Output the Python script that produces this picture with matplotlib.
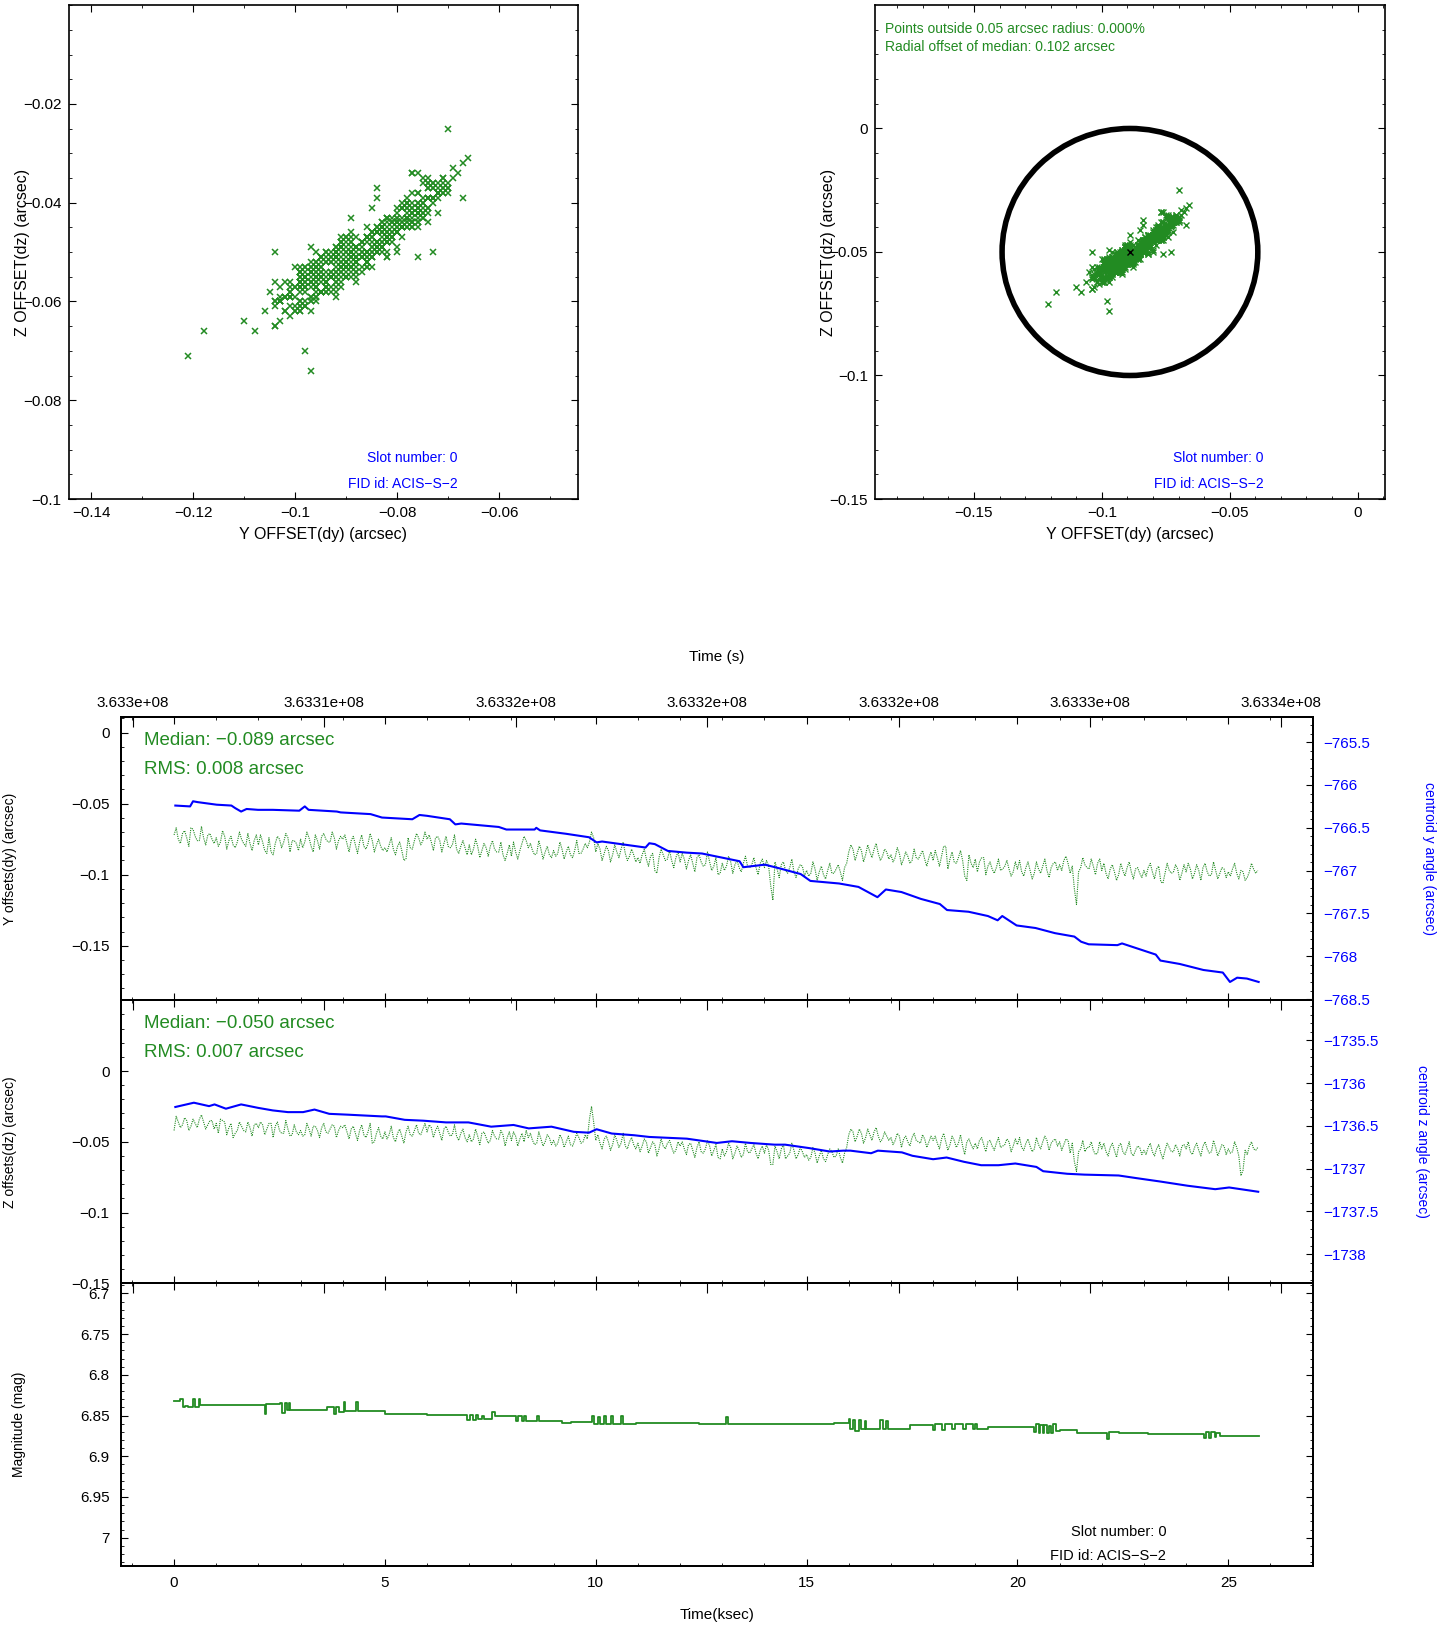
import matplotlib
matplotlib.use("Agg")
import matplotlib.pyplot as plt
from matplotlib.patches import Circle
from matplotlib.ticker import MultipleLocator, FixedLocator, FixedFormatter, FuncFormatter
import numpy as np

plt.rcParams["font.family"] = ["Liberation Sans", "DejaVu Sans"]
plt.rcParams["axes.linewidth"] = 1.3
plt.rcParams["xtick.direction"] = "in"
plt.rcParams["ytick.direction"] = "in"
plt.rcParams["xtick.major.size"] = 5
plt.rcParams["ytick.major.size"] = 5
plt.rcParams["xtick.minor.size"] = 2.5
plt.rcParams["ytick.minor.size"] = 2.5
plt.rcParams["xtick.labelsize"] = 11
plt.rcParams["ytick.labelsize"] = 11

GREEN = "#228b22"
BLUE = "#0000ff"

# fid light offsets (milli-arcsec), samples on the 0.1 ksec grid t = 0.0 .. 25.7
dy_mas = [
    -72, -75, -71, -74, -67, -73, -76, -74, -72, -75,
    -74, -77, -73, -76, -79, -77, -75, -80, -78, -76,
    -79, -77, -85, -84, -78, -75, -77, -74, -76, -78,
    -75, -77, -74, -84, -76, -73, -75, -77, -74, -76,
    -75, -78, -76, -79, -77, -80, -78, -76, -79, -80,
    -81, -79, -82, -80, -83, -89, -81, -76, -74, -76,
    -75, -77, -74, -76, -78, -80, -79, -82, -80, -81,
    -79, -82, -80, -83, -81, -80, -82, -84, -86, -85,
    -87, -84, -83, -73, -81, -83, -85, -82, -84, -86,
    -83, -85, -82, -84, -86, -83, -85, -82, -81, -70,
    -84, -82, -85, -83, -86, -84, -82, -85, -87, -86,
    -88, -86, -89, -87, -97, -88, -86, -89, -90, -88,
    -91, -89, -90, -92, -88, -91, -93, -91, -94, -100,
    -92, -94, -91, -93, -95, -92, -94, -93, -95, -92,
    -95, -94, -118, -96, -93, -97, -95, -98, -96, -94,
    -97, -99, -96, -98, -100, -97, -99, -96, -98, -95,
    -84, -82, -85, -83, -86, -84, -82, -85, -87, -84,
    -86, -88, -85, -89, -87, -90, -88, -86, -89, -88,
    -90, -88, -87, -80, -89, -91, -88, -90, -104, -92,
    -89, -91, -88, -94, -96, -95, -97, -94, -96, -98,
    -96, -98, -95, -97, -99, -96, -94, -97, -95, -91,
    -93, -90, -92, -94, -121, -95, -93, -96, -94, -92,
    -97, -99, -96, -98, -100, -97, -95, -98, -96, -99,
    -97, -95, -98, -96, -105, -99, -97, -98, -96, -99,
    -98, -96, -99, -97, -95, -98, -100, -97, -99, -96,
    -98, -96, -99, -97, -104, -98, -96, -97,
]
dz_mas = [
    -42, -36, -38, -35, -39, -37, -34, -36, -38, -35,
    -37, -34, -36, -40, -47, -42, -39, -43, -40, -38,
    -40, -38, -41, -37, -39, -42, -44, -41, -45, -43,
    -42, -45, -41, -39, -42, -40, -43, -41, -39, -42,
    -40, -43, -41, -44, -42, -45, -43, -51, -44, -46,
    -43, -45, -47, -44, -46, -43, -45, -42, -44, -41,
    -43, -40, -42, -44, -41, -43, -45, -46, -44, -47,
    -45, -48, -46, -44, -47, -49, -46, -48, -45, -47,
    -49, -46, -48, -50, -47, -49, -51, -48, -50, -47,
    -49, -51, -48, -50, -52, -49, -47, -50, -48, -25,
    -49, -51, -48, -50, -52, -49, -51, -53, -50, -52,
    -51, -53, -50, -54, -52, -55, -53, -51, -54, -56,
    -53, -55, -52, -56, -54, -57, -55, -53, -56, -61,
    -55, -57, -54, -58, -56, -59, -57, -55, -58, -56,
    -58, -56, -66, -57, -55, -62, -58, -56, -59, -57,
    -59, -61, -58, -60, -62, -59, -57, -60, -61, -58,
    -45, -43, -46, -44, -47, -45, -43, -46, -48, -46,
    -47, -49, -46, -48, -50, -47, -49, -51, -48, -50,
    -49, -51, -48, -50, -52, -49, -51, -53, -50, -52,
    -51, -49, -52, -50, -53, -51, -54, -52, -50, -53,
    -52, -54, -51, -53, -55, -52, -50, -49, -51, -48,
    -50, -52, -49, -51, -71, -55, -57, -54, -56, -58,
    -55, -57, -54, -56, -53, -57, -55, -58, -56, -54,
    -56, -54, -57, -55, -58, -56, -54, -57, -55, -53,
    -55, -57, -54, -56, -53, -55, -57, -54, -56, -53,
    -55, -57, -54, -74, -56, -53, -55, -54,
]
# samples between those, t = 0.05 .. 25.65 (the spread of the noisy band)
dy_mid_mas = [
    -67, -78, -69, -80, -68, -76, -66, -79, -71, -78,
    -80, -69, -82, -73, -81, -70, -78, -71, -83, -72,
    -72, -83, -74, -86, -73, -81, -71, -84, -76, -83,
    -81, -70, -80, -72, -82, -71, -77, -70, -82, -73,
    -72, -84, -73, -85, -72, -82, -71, -84, -75, -83,
    -84, -74, -86, -77, -90, -74, -82, -71, -79, -70,
    -72, -83, -73, -84, -73, -81, -72, -85, -76, -86,
    -86, -75, -88, -78, -87, -76, -84, -77, -90, -79,
    -77, -89, -78, -76, -78, -86, -76, -89, -80, -88,
    -87, -77, -89, -80, -88, -76, -85, -78, -77, -74,
    -78, -90, -80, -91, -79, -88, -77, -90, -82, -91,
    -92, -82, -94, -85, -99, -82, -90, -83, -95, -84,
    -85, -96, -86, -98, -86, -94, -84, -97, -88, -99,
    -97, -87, -99, -90, -98, -87, -95, -88, -100, -89,
    -90, -108, -91, -102, -91, -99, -89, -102, -93, -101,
    -101, -91, -104, -94, -103, -92, -99, -93, -104, -92,
    -79, -90, -80, -91, -79, -88, -78, -90, -82, -89,
    -91, -81, -93, -84, -92, -82, -89, -83, -94, -84,
    -83, -94, -80, -96, -84, -92, -83, -101, -86, -95,
    -98, -88, -100, -91, -99, -89, -96, -90, -101, -91,
    -90, -101, -91, -103, -91, -99, -89, -102, -92, -97,
    -97, -87, -99, -110, -98, -88, -95, -89, -100, -89,
    -92, -103, -93, -104, -92, -101, -91, -103, -95, -102,
    -101, -92, -103, -94, -106, -92, -99, -93, -104, -93,
    -92, -103, -93, -104, -92, -101, -91, -103, -95, -102,
    -101, -92, -103, -98, -102, -92, -99,
]
dz_mid_mas = [
    -32, -40, -33, -42, -34, -40, -31, -41, -35, -41,
    -44, -35, -45, -37, -44, -36, -42, -36, -46, -37,
    -36, -45, -37, -47, -36, -44, -35, -46, -38, -45,
    -46, -37, -46, -39, -47, -37, -44, -38, -47, -39,
    -38, -48, -39, -49, -38, -47, -37, -50, -40, -48,
    -48, -39, -50, -41, -51, -39, -46, -38, -45, -37,
    -38, -47, -39, -49, -39, -46, -38, -49, -41, -50,
    -50, -41, -52, -43, -51, -42, -48, -42, -53, -43,
    -43, -53, -44, -42, -44, -52, -43, -53, -45, -52,
    -53, -45, -54, -46, -53, -44, -51, -45, -34, -36,
    -45, -55, -46, -56, -45, -54, -44, -55, -47, -55,
    -57, -48, -58, -50, -60, -48, -55, -49, -58, -50,
    -50, -59, -51, -61, -50, -58, -49, -60, -52, -62,
    -60, -51, -62, -53, -61, -51, -58, -52, -62, -53,
    -52, -66, -53, -62, -52, -60, -51, -62, -54, -61,
    -63, -54, -65, -56, -64, -55, -61, -55, -65, -54,
    -41, -50, -41, -51, -41, -49, -40, -50, -43, -49,
    -52, -44, -54, -46, -53, -44, -50, -45, -54, -46,
    -46, -55, -44, -56, -46, -54, -45, -59, -48, -55,
    -55, -47, -57, -49, -56, -47, -53, -48, -57, -48,
    -47, -56, -48, -57, -47, -55, -46, -56, -49, -53,
    -56, -48, -58, -64, -57, -49, -54, -50, -59, -50,
    -51, -60, -51, -61, -51, -59, -50, -60, -53, -59,
    -59, -51, -60, -52, -62, -51, -57, -52, -60, -52,
    -50, -59, -51, -60, -50, -58, -49, -60, -52, -59,
    -58, -50, -60, -70, -59, -50, -56,
]

# regular sampling grid (ksec) the offsets above belong to
t_grid = np.round(np.arange(len(dy_mas)) * 0.1, 2)
t_mid = np.round(np.arange(len(dy_mid_mas)) * 0.1 + 0.05, 2)
t_ksec = np.concatenate([t_grid, t_mid])
order = np.argsort(t_ksec)
t_ksec = t_ksec[order]
dy = (np.concatenate([dy_mas, dy_mid_mas]) / 1000.0)[order]
dz = (np.concatenate([dz_mas, dz_mid_mas]) / 1000.0)[order]

# centroid angles (arcsec)
cy_t = [0.03, 0.38, 0.45, 0.56, 1.01, 1.36, 1.45, 1.59, 1.72, 1.99, 2.34, 2.97,
        3.10, 3.19, 3.86, 3.95, 4.66, 4.93, 5.65, 5.82, 6.00, 6.54, 6.67, 6.81,
        7.70, 7.88, 8.23, 8.55, 8.59, 8.68, 9.30, 9.84, 10.02, 10.15, 11.18,
        11.27, 11.40, 11.71, 12.16, 12.52, 13.41, 13.50, 14.01, 14.41, 14.86,
        15.09, 15.77, 16.23, 16.68, 16.88, 17.25, 17.71, 18.16, 18.33, 18.84,
        19.30, 19.53, 19.64, 19.98, 20.43, 20.89, 21.35, 21.51, 21.69, 22.37,
        22.48, 23.28, 23.39, 23.85, 24.41, 24.87, 25.04, 25.21, 25.44, 25.72]
cy_val = [-766.24, -766.25, -766.19, -766.20, -766.23, -766.24, -766.27, -766.31,
          -766.28, -766.29, -766.29, -766.30, -766.25, -766.29, -766.31, -766.32,
          -766.34, -766.38, -766.40, -766.35, -766.36, -766.40, -766.46, -766.45,
          -766.49, -766.52, -766.52, -766.52, -766.50, -766.53, -766.57, -766.61,
          -766.67, -766.66, -766.73, -766.68, -766.69, -766.77, -766.79, -766.80,
          -766.89, -766.96, -766.93, -766.98, -767.04, -767.12, -767.15, -767.19,
          -767.31, -767.22, -767.25, -767.33, -767.39, -767.46, -767.48, -767.53,
          -767.58, -767.53, -767.64, -767.67, -767.73, -767.77, -767.83, -767.86,
          -767.87, -767.85, -767.98, -768.05, -768.09, -768.16, -768.19, -768.30,
          -768.25, -768.26, -768.30]
cz_t = [0.03, 0.47, 0.83, 0.96, 1.23, 1.59, 1.99, 2.34, 2.70, 3.06, 3.33, 3.68,
        4.13, 4.93, 5.02, 5.47, 5.91, 6.45, 6.98, 7.52, 8.05, 8.41, 8.95, 9.48,
        9.84, 10.02, 10.38, 10.91, 11.27, 12.16, 12.87, 13.23, 13.67, 14.24,
        14.49, 15.06, 15.55, 15.87, 16.04, 16.53, 16.69, 17.26, 17.51, 18.00,
        18.32, 18.73, 19.14, 19.55, 19.95, 20.45, 20.61, 21.18, 21.59, 22.40,
        22.81, 23.38, 24.04, 24.69, 25.02, 25.71]
cz_val = [-1736.28, -1736.23, -1736.27, -1736.25, -1736.30, -1736.25, -1736.29,
          -1736.32, -1736.34, -1736.34, -1736.31, -1736.36, -1736.37, -1736.39,
          -1736.39, -1736.43, -1736.44, -1736.46, -1736.46, -1736.51, -1736.49,
          -1736.53, -1736.51, -1736.57, -1736.58, -1736.54, -1736.59, -1736.61,
          -1736.63, -1736.65, -1736.70, -1736.68, -1736.70, -1736.72, -1736.72,
          -1736.76, -1736.80, -1736.79, -1736.79, -1736.82, -1736.79, -1736.81,
          -1736.85, -1736.89, -1736.87, -1736.92, -1736.96, -1736.96, -1736.94,
          -1736.98, -1737.03, -1737.06, -1737.07, -1737.08, -1737.11, -1737.15,
          -1737.20, -1737.24, -1737.22, -1737.27]

# magnitude, piecewise constant (step starts)
mag_t = [0.00, 0.15, 0.22, 0.27, 0.32, 0.45, 0.50, 0.58, 0.62, 2.15, 2.18, 2.52,
         2.57, 2.62, 2.68, 2.72, 2.76, 3.62, 3.80, 3.85, 3.92, 4.02, 4.06, 4.32,
         4.36, 5.00, 6.00, 6.95, 7.02, 7.10, 7.15, 7.20, 7.30, 7.35, 7.55, 7.60,
         8.10, 8.15, 8.25, 8.30, 8.35, 8.60, 8.65, 9.20, 9.42, 9.90, 9.95, 10.05,
         10.10, 10.20, 10.25, 10.35, 10.40, 10.60, 10.65, 10.95, 12.45, 13.10,
         13.14, 15.66, 16.00, 16.04, 16.10, 16.15, 16.25, 16.30, 16.38, 16.42,
         16.75, 16.80, 16.88, 16.92, 17.45, 18.00, 18.05, 18.20, 18.28, 18.45,
         18.52, 18.70, 18.78, 18.95, 19.00, 19.05, 19.30, 20.40, 20.44, 20.50,
         20.54, 20.60, 20.64, 20.70, 20.74, 20.80, 20.84, 20.92, 21.00, 21.42,
         22.12, 22.16, 22.42, 23.10, 24.42, 24.46, 24.55, 24.60, 24.68, 24.72,
         24.80, 25.73]
mag_v = [6.832, 6.830, 6.840, 6.838, 6.840, 6.830, 6.839, 6.830, 6.837, 6.848,
         6.836, 6.835, 6.847, 6.835, 6.843, 6.835, 6.843, 6.839, 6.848, 6.840,
         6.846, 6.834, 6.845, 6.834, 6.845, 6.848, 6.849, 6.855, 6.849, 6.855,
         6.849, 6.854, 6.850, 6.854, 6.846, 6.851, 6.857, 6.850, 6.857, 6.851,
         6.857, 6.850, 6.857, 6.859, 6.858, 6.850, 6.860, 6.852, 6.861, 6.851,
         6.860, 6.851, 6.860, 6.850, 6.860, 6.859, 6.860, 6.852, 6.860, 6.859,
         6.854, 6.866, 6.855, 6.869, 6.856, 6.866, 6.857, 6.866, 6.856, 6.867,
         6.857, 6.866, 6.862, 6.868, 6.861, 6.868, 6.861, 6.867, 6.861, 6.867,
         6.861, 6.866, 6.860, 6.866, 6.864, 6.870, 6.861, 6.871, 6.862, 6.872,
         6.862, 6.871, 6.863, 6.872, 6.861, 6.869, 6.868, 6.872, 6.879, 6.870,
         6.871, 6.873, 6.878, 6.870, 6.877, 6.870, 6.876, 6.871, 6.875, 6.875]

median_dy, median_dz = -0.089, -0.050
radius = 0.05

# top axis (seconds) tick positions expressed in ksec
sec_tick_ksec = [-0.98, 3.56, 8.10, 12.64, 17.18, 21.72, 26.26]
sec_tick_labels = ["3.633e+08", "3.6331e+08", "3.6332e+08", "3.6332e+08",
                   "3.6332e+08", "3.6333e+08", "3.6334e+08"]


def fmt(v, pos):
    if abs(v) < 1e-9:
        return "0"
    return f"{round(v, 6):g}".replace("-", "\u2212")


FMT = FuncFormatter(fmt)

fig = plt.figure(figsize=(14.52, 16.27), dpi=100)

# ---- scatter, zoomed ----
ax_a = fig.add_axes([0.0472, 0.6933, 0.3509, 0.3035])
ax_a.plot(dy, dz, "x", color=GREEN, ms=5, mew=1.1)
ax_a.set_xlim(-0.1445, -0.0445)
ax_a.set_ylim(-0.1, 0.0)
ax_a.xaxis.set_major_locator(MultipleLocator(0.02))
ax_a.xaxis.set_minor_locator(MultipleLocator(0.01))
ax_a.yaxis.set_major_locator(FixedLocator([-0.1, -0.08, -0.06, -0.04, -0.02]))
ax_a.yaxis.set_minor_locator(MultipleLocator(0.005))
ax_a.text(0.764, 0.083, "Slot number: 0", color=BLUE, ha="right", va="center",
          fontsize=10, transform=ax_a.transAxes)
ax_a.text(0.764, 0.031, "FID id: ACIS\u2212S\u22122", color=BLUE, ha="right",
          va="center", fontsize=10, transform=ax_a.transAxes)

# ---- scatter with 0.05 arcsec circle ----
ax_b = fig.add_axes([0.6026, 0.6933, 0.3512, 0.3035])
ax_b.plot(dy, dz, "x", color=GREEN, ms=4, mew=1.0)
ax_b.add_patch(Circle((median_dy, median_dz), radius, fill=False,
                      edgecolor="black", linewidth=4))
ax_b.plot([median_dy], [median_dz], "x", color="black", ms=4, mew=1)
ax_b.set_xlim(-0.1887, 0.0107)
ax_b.set_ylim(-0.15, 0.0499)
ax_b.xaxis.set_major_locator(MultipleLocator(0.05))
ax_b.xaxis.set_minor_locator(MultipleLocator(0.01))
ax_b.yaxis.set_major_locator(FixedLocator([-0.15, -0.1, -0.05, 0.0]))
ax_b.yaxis.set_minor_locator(MultipleLocator(0.01))
ax_b.text(0.020, 0.952, "Points outside 0.05 arcsec radius: 0.000%", color=GREEN,
          ha="left", va="center", fontsize=10, transform=ax_b.transAxes)
ax_b.text(0.020, 0.916, "Radial offset of median: 0.102 arcsec", color=GREEN,
          ha="left", va="center", fontsize=10, transform=ax_b.transAxes)
ax_b.text(0.762, 0.083, "Slot number: 0", color=BLUE, ha="right", va="center",
          fontsize=10, transform=ax_b.transAxes)
ax_b.text(0.762, 0.031, "FID id: ACIS\u2212S\u22122", color=BLUE, ha="right",
          va="center", fontsize=10, transform=ax_b.transAxes)

for ax in (ax_a, ax_b):
    ax.xaxis.set_major_formatter(FMT)
    ax.yaxis.set_major_formatter(FMT)
    ax.tick_params(which="both", top=True, right=True)
    ax.tick_params(which="major", pad=5)
    for sp in ax.spines.values():
        sp.set_linewidth(1.2)

fig.text(323.3 / 1452, 1 - 534.6 / 1627, "Y OFFSET(dy) (arcsec)", ha="center",
         va="center", fontsize=11.5)
fig.text(1130.5 / 1452, 1 - 534.6 / 1627, "Y OFFSET(dy) (arcsec)", ha="center",
         va="center", fontsize=11.5)
fig.text(22.8 / 1452, 1 - 252 / 1627, "Z OFFSET(dz) (arcsec)", ha="center",
         va="center", rotation=90, fontsize=11.5)
fig.text(828.3 / 1452, 1 - 252 / 1627, "Z OFFSET(dz) (arcsec)", ha="center",
         va="center", rotation=90, fontsize=11.5)

# ---- time series panels ----
ax1 = fig.add_axes([0.0830, 0.3854, 0.8213, 0.1737])
ax2 = fig.add_axes([0.0830, 0.2112, 0.8213, 0.1742])
ax3 = fig.add_axes([0.0830, 0.0375, 0.8213, 0.1737])
xlim = (-1.27, 27.01)

panels = [
    (ax1, dy, cy_t, cy_val, (-0.1882, 0.0108), (-768.51, -765.21),
     "Median: \u22120.089 arcsec", "RMS: 0.008 arcsec"),
    (ax2, dz, cz_t, cz_val, (-0.15, 0.0502), (-1738.34, -1735.03),
     "Median: \u22120.050 arcsec", "RMS: 0.007 arcsec"),
]
for ax, off, bt, bv, ylim, rlim, med, rms in panels:
    ax.plot(t_ksec, off, color=GREEN, lw=0.8, ls=(0, (1, 1)))
    ax.set_ylim(*ylim)
    ax.yaxis.set_major_locator(FixedLocator([-0.15, -0.1, -0.05, 0.0]))
    ax.yaxis.set_minor_locator(MultipleLocator(0.01))
    ax.text(0.020, 0.918, med, color=GREEN, fontsize=13.5, ha="left",
            va="center", transform=ax.transAxes)
    ax.text(0.020, 0.815, rms, color=GREEN, fontsize=13.5, ha="left",
            va="center", transform=ax.transAxes)
    r = ax.twinx()
    r.plot(bt, bv, color=BLUE, lw=1.5)
    r.set_ylim(*rlim)
    r.yaxis.set_major_locator(MultipleLocator(0.5))
    r.yaxis.set_minor_locator(MultipleLocator(0.1))
    r.yaxis.set_major_formatter(FMT)
    r.tick_params(axis="y", which="major", labelcolor=BLUE, pad=7.5)
    r.set_xlim(*xlim)

ax3.step(mag_t, mag_v, where="post", color=GREEN, lw=1.3)
ax3.set_ylim(7.0348, 6.6877)
ax3.yaxis.set_major_locator(MultipleLocator(0.05))
ax3.yaxis.set_minor_locator(MultipleLocator(0.01))
ax3.tick_params(axis="y", which="both", right=True)
ax3.text(0.877, 0.120, "Slot number: 0", color="black", fontsize=10.5,
         ha="right", va="center", transform=ax3.transAxes)
ax3.text(0.877, 0.035, "FID id: ACIS\u2212S\u22122", color="black", fontsize=10.5,
         ha="right", va="center", transform=ax3.transAxes)

for i, ax in enumerate((ax1, ax2, ax3)):
    ax.set_xlim(*xlim)
    ax.xaxis.set_major_locator(MultipleLocator(5))
    ax.xaxis.set_minor_locator(MultipleLocator(1))
    ax.xaxis.set_major_formatter(FMT)
    ax.yaxis.set_major_formatter(FMT)
    top = ax.twiny()
    top.set_xlim(*xlim)
    top.xaxis.set_major_locator(FixedLocator(sec_tick_ksec))
    top.xaxis.set_major_formatter(FixedFormatter(sec_tick_labels))
    top.tick_params(axis="x", which="major", length=7, pad=5, labeltop=(i == 0))
    ax.tick_params(axis="x", which="both", top=True, bottom=True,
                   labelbottom=(i == 2))
    ax.tick_params(axis="x", which="major", pad=7)
    ax.tick_params(axis="y", which="major", pad=8)

fig.text(717 / 1452, 1 - 657 / 1627, "Time (s)", ha="center", va="center",
         fontsize=11)
fig.text(717 / 1452, 1 - 1615 / 1627, "Time(ksec)", ha="center", va="center",
         fontsize=11)
fig.text(10.4 / 1452, 1 - 858.6 / 1627, "Y offsets(dy) (arcsec)", ha="center",
         va="center", rotation=90, fontsize=10)
fig.text(10.4 / 1452, 1 - 1141.7 / 1627, "Z offsets(dz) (arcsec)", ha="center",
         va="center", rotation=90, fontsize=10)
fig.text(18.7 / 1452, 1 - 1424.7 / 1627, "Magnitude (mag)", ha="center",
         va="center", rotation=90, fontsize=10)
fig.text(1429 / 1452, 1 - 858.6 / 1627, "centroid y angle (arcsec)", color=BLUE,
         ha="center", va="center", rotation=-90, fontsize=10)
fig.text(1422 / 1452, 1 - 1141.7 / 1627, "centroid z angle (arcsec)", color=BLUE,
         ha="center", va="center", rotation=-90, fontsize=10)

fig.savefig("out.png", dpi=100)
